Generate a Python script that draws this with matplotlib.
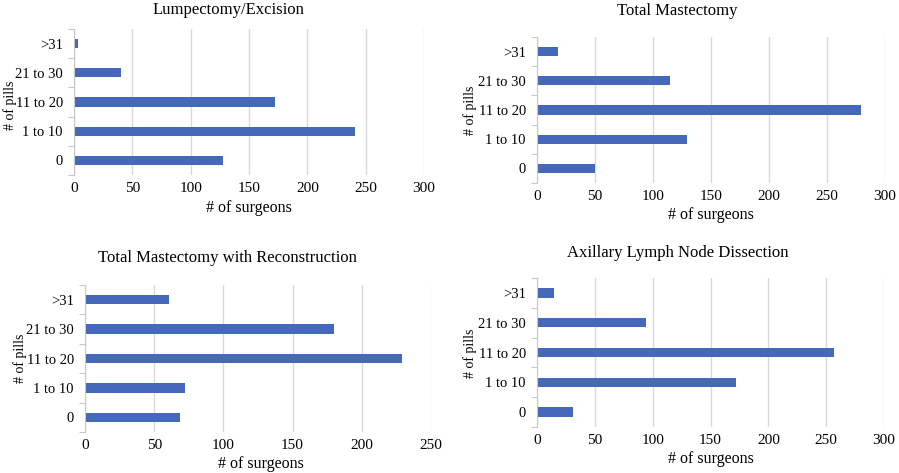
import matplotlib
matplotlib.use("Agg")
import matplotlib.pyplot as plt
import numpy as np

plt.rcParams['font.family'] = ['Liberation Serif', 'DejaVu Serif']

categories = ["0", "1 to 10", "11 to 20", "21 to 30", ">31"]

titles = ["Lumpectomy/Excision", "Total Mastectomy",
          "Total Mastectomy with Reconstruction", "Axillary Lymph Node Dissection"]

lumpectomy = [128, 241, 172, 40, 3]
total_mastectomy = [50, 129, 279, 115, 18]
mastectomy_recon = [69, 72, 229, 180, 61]
axillary = [31, 172, 257, 94, 15]

series = [lumpectomy, total_mastectomy, mastectomy_recon, axillary]
xmax = [300, 300, 250, 300]

W, H = 899, 473
fig = plt.figure(figsize=(W / 100, H / 100), dpi=100)

# axes rectangles in pixels: left, right, top, bottom
rects = [(74, 424, 29, 175), (537, 885, 37, 183), (85, 431, 285, 432), (537, 884, 278, 427)]
title_pos = [(228, 10), (677, 11), (227, 258), (678, 253)]
ylab_pos = [(10, 105), (470, 110), (20, 358), (470, 353)]
xlab_pos = [(249, 208), (711, 215), (261, 464), (711, 459)]

bar_color = "#4568BA"
grid_color = "#d9d9d9"

for i in range(4):
    l, r, t, b = rects[i]
    ax = fig.add_axes([l / W, 1 - b / H, (r - l) / W, (b - t) / H])
    y = np.arange(len(categories))
    ax.barh(y, series[i], height=0.32, color=bar_color, zorder=3)
    ax.set_xlim(0, xmax[i])
    ax.set_ylim(-0.5, len(categories) - 0.5)
    ax.set_xticks(np.arange(0, xmax[i] + 1, 50))
    ax.set_yticks(y)
    ax.set_yticklabels(categories)
    ax.set_yticks(np.arange(-0.5, len(categories), 1), minor=True)
    ax.tick_params(axis='y', which='major', length=0, pad=8, labelsize=10.5)
    ax.tick_params(axis='y', which='minor', length=4, color="#c8c8c8", width=0.8)
    ax.tick_params(axis='x', length=0, pad=5, labelsize=11)
    ax.grid(axis='x', color=grid_color, linewidth=1, zorder=0)
    for s in ['top', 'right', 'bottom']:
        ax.spines[s].set_visible(False)
    ax.spines['left'].set_color("#c8c8c8")
    ax.spines['left'].set_linewidth(0.8)
    ax.spines['left'].set_zorder(4)
    tx, ty = title_pos[i]
    fig.text(tx / W, 1 - ty / H, titles[i], ha='center', va='center', fontsize=12)
    yx, yy = ylab_pos[i]
    fig.text(yx / W, 1 - yy / H, "# of pills", ha='center', va='center', rotation=90, fontsize=10)
    xx, xy = xlab_pos[i]
    fig.text(xx / W, 1 - xy / H, "# of surgeons", ha='center', va='center', fontsize=11.5)

fig.savefig("out.png", dpi=100)
